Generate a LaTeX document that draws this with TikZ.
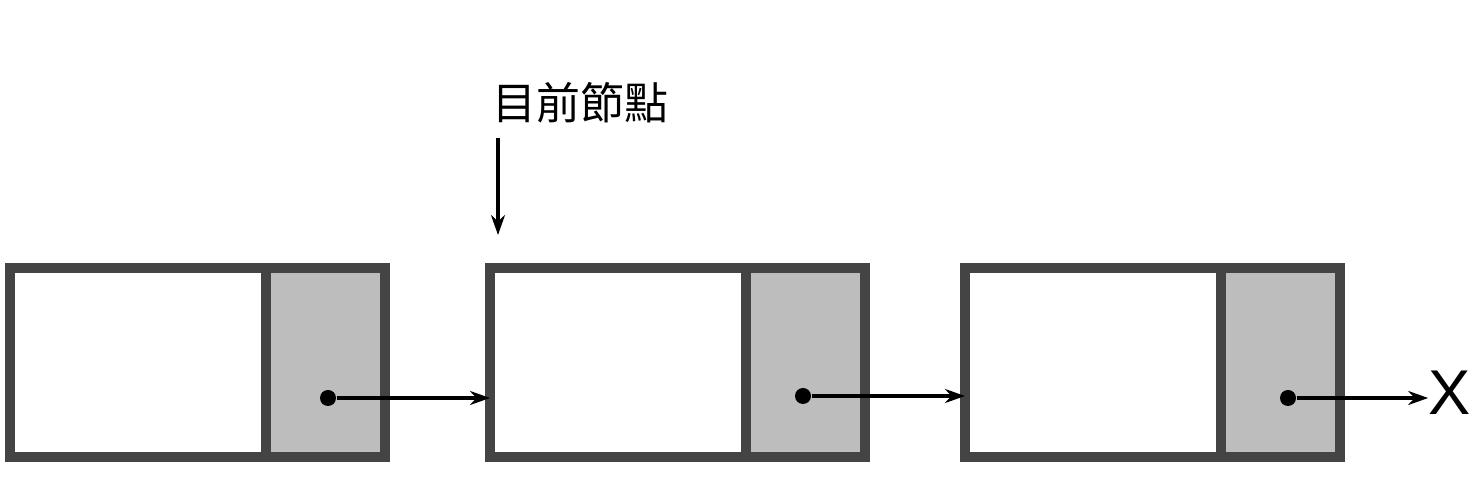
\documentclass[tikz,border=0pt]{standalone}
\usepackage{fontspec}
\setsansfont{Liberation Sans}
\newfontfamily\cjk{Noto Sans CJK TC}
\usetikzlibrary{positioning,arrows.meta}
\definecolor{edge}{HTML}{444444}
\definecolor{ptrfill}{HTML}{BDBDBD}
\begin{document}
\begin{tikzpicture}
                \tikzset{
                  cell/.style={draw=edge,line width=2.8pt,fill=white,outer sep=0pt,inner sep=0pt,minimum height=1.89cm},
                  data/.style={cell,minimum width=2.56cm},
                  ptr/.style={cell,fill=ptrfill,minimum width=1.19cm},
                  dot/.style={circle,fill=black,inner sep=0pt,minimum size=0.16cm},
                  link/.style={line width=1pt,-{Stealth[length=0.2cm,width=0.14cm]}}
                }
                \useasboundingbox (0,0) rectangle (14.74,4.85);

                \node[data] (d1) at (1.38,1.225) {};
                \node[ptr,right=0pt of d1] (p1) {};
                \node[data] (d2) at (6.18,1.225) {};
                \node[ptr,right=0pt of d2] (p2) {};
                \node[data] (d3) at (10.93,1.225) {};
                \node[ptr,right=0pt of d3] (p3) {};

                \node[dot] (n1) at (3.28,0.87) {};
                \node[dot] (n2) at (8.03,0.89) {};
                \node[dot] (n3) at (12.88,0.87) {};
                \node[font=\sffamily\fontsize{18}{18}\selectfont,inner sep=0pt] (nil) at (14.50,0.92) {X};

                \node[font=\cjk\fontsize{12.5}{12.5}\selectfont,anchor=west,inner sep=0pt] (cur) at (4.92,3.82) {目前節點};
                \coordinate (curtop) at (4.98,3.47);
                \coordinate (curbot) at (4.98,2.5);

                \draw[link] (n1) -- (n1 -| d2.west);
                \draw[link] (n2) -- (n2 -| d3.west);
                \draw[link] (n3) -- (n3 -| nil.west);
                \draw[link] (curtop) -- (curbot);
            \end{tikzpicture}
\end{document}
